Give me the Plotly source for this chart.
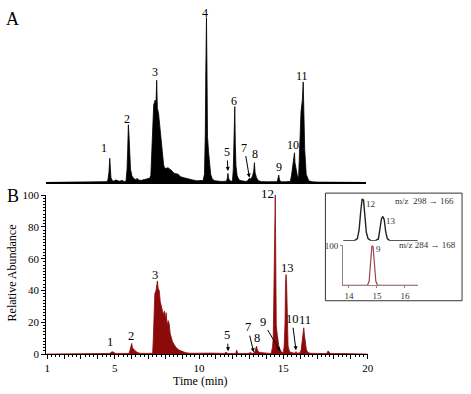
import plotly.graph_objects as go

# ---------------- data ----------------
time_a = [0.94, 4.50, 4.55, 4.62, 4.68, 4.73, 4.76, 4.80, 4.88, 4.95, 5.10, 5.30, 5.45, 5.60,
          5.70, 5.76, 5.80, 5.84, 5.88, 5.92, 5.97, 6.05, 6.15, 6.30, 6.36, 6.45, 6.60, 6.80, 7.00,
          7.10, 7.18, 7.26, 7.35, 7.44, 7.49, 7.53, 7.57, 7.64, 7.70, 7.76, 7.82, 7.88, 7.94, 7.99,
          8.10, 8.20, 8.34, 8.45, 8.52, 8.60, 8.81, 8.95, 9.10, 9.40, 9.69, 9.90, 10.20,
          10.30, 10.38, 10.43, 10.46, 10.50, 10.53, 10.56, 10.62, 10.68, 10.75, 10.85, 11.00, 11.40,
          11.70, 11.75, 11.78, 11.82, 11.90, 12.00,
          12.05, 12.10, 12.14, 12.19, 12.22, 12.26, 12.33, 12.45, 12.60, 12.85,
          12.95, 13.06, 13.15, 13.25, 13.32, 13.36, 13.40, 13.48, 13.60, 13.80, 14.20, 14.60,
          14.72, 14.78, 14.81, 14.85, 14.92, 15.20, 15.45,
          15.50, 15.57, 15.63, 15.70, 15.75, 15.78, 15.84, 15.90, 15.95,
          16.00, 16.06, 16.14, 16.22, 16.27, 16.31, 16.36, 16.45, 16.60, 16.80, 17.20, 20.00]
abund_a = [0.0, 0.3, 0.5, 1.5, 6.0, 14.7, 8.0, 3.0, 1.2, 0.8, 1.5, 0.7, 1.2, 0.6,
           0.8, 8.0, 20.0, 35.0, 28.0, 18.0, 8.0, 4.0, 2.5, 1.5, 2.5, 1.5, 1.2, 1.8, 2.0,
           2.5, 4.0, 25.0, 47.0, 50.0, 48.0, 62.0, 45.0, 42.0, 36.0, 30.0, 21.0, 15.0, 11.0, 9.0,
           8.5, 9.0, 8.0, 7.0, 6.0, 5.5, 5.0, 3.5, 3.0, 2.0, 1.5, 1.0, 1.0,
           1.2, 5.0, 30.0, 68.0, 100.0, 68.0, 28.0, 19.0, 12.0, 5.0, 2.0, 1.0, 0.6,
           0.8, 3.0, 5.5, 2.5, 1.0, 0.8,
           1.0, 8.0, 24.0, 46.0, 24.0, 10.0, 4.0, 1.5, 1.0, 0.6,
           1.0, 2.5, 2.0, 4.0, 7.0, 12.0, 6.0, 3.0, 1.0, 0.5, 0.4, 0.4,
           0.5, 3.0, 4.5, 2.0, 0.4, 0.4, 0.4,
           0.6, 4.0, 10.0, 13.0, 18.0, 12.0, 8.0, 3.0, 2.5,
           4.0, 19.0, 43.0, 50.0, 61.0, 43.0, 20.0, 5.0, 1.0, 0.4, 0.2, 0.0]

time_b = [0.94, 3.00, 4.70, 4.78, 4.85, 4.95, 5.05, 5.50,
          5.85, 5.92, 5.98, 6.01, 6.05, 6.12, 6.22, 6.35, 6.50, 6.90,
          7.25, 7.29, 7.33, 7.38, 7.45, 7.50, 7.53, 7.58, 7.64, 7.70, 7.76, 7.82, 7.88, 7.95,
          8.00, 8.05, 8.11, 8.17, 8.23, 8.29, 8.34, 8.42, 8.52, 8.65, 8.81, 9.00, 9.22, 9.50,
          9.80, 10.20, 10.80, 11.50, 11.60, 11.70, 12.18, 12.23, 12.28, 12.35, 12.90, 13.06, 13.15,
          13.25, 13.33, 13.38, 13.41, 13.45, 13.52, 13.60, 13.75, 13.90, 14.20,
          14.28, 14.35, 14.40, 14.43, 14.47, 14.52, 14.55, 14.58, 14.64, 14.70, 14.75, 14.81, 14.87, 14.95,
          15.00, 15.05, 15.10, 15.13, 15.16, 15.19, 15.23, 15.28, 15.35, 15.45,
          15.70, 15.75, 15.80, 16.00, 16.06, 16.12, 16.17, 16.21, 16.25, 16.30, 16.36, 16.45, 16.60,
          17.00, 17.58, 17.65, 17.72, 17.80, 18.50, 20.00]
abund_b = [0.0, 0.3, 0.4, 1.0, 1.5, 1.0, 0.4, 0.4,
           0.4, 3.0, 5.0, 6.7, 4.0, 3.0, 2.0, 1.0, 0.5, 0.4,
           0.5, 10.0, 30.0, 38.0, 40.0, 45.0, 46.0, 41.0, 40.0, 33.0, 30.0, 28.0, 25.0, 27.0,
           22.0, 26.0, 18.0, 21.0, 19.0, 13.0, 11.0, 8.0, 6.0, 4.0, 2.5, 1.5, 0.8, 0.5,
           0.6, 0.4, 0.6, 0.4, 1.2, 0.4, 0.4, 2.5, 1.0, 0.4, 0.4, 0.9, 0.4,
           0.6, 2.0, 4.0, 5.0, 3.0, 1.5, 1.0, 0.8, 0.5, 0.4,
           0.5, 4.0, 10.0, 33.0, 59.0, 100.0, 59.0, 18.0, 12.0, 5.0, 4.0, 3.0, 1.5, 1.0,
           1.0, 5.0, 20.0, 45.0, 50.0, 45.0, 15.0, 5.0, 2.0, 1.0,
           0.5, 1.5, 0.5, 0.8, 3.0, 8.0, 14.0, 16.5, 12.0, 7.0, 3.0, 1.0, 0.5,
           0.4, 0.3, 2.0, 1.0, 0.3, 0.3, 0.0]

inset_time_298 = [13.79, 14.20, 14.30, 14.36, 14.42, 14.47, 14.52, 14.57, 14.62, 14.68, 14.78,
                  14.95, 15.05, 15.10, 15.16, 15.21, 15.26, 15.31, 15.37, 15.45, 16.46]
inset_abund_298 = [0, 0, 5, 25, 70, 100, 97, 60, 20, 5, 0,
                   0, 4, 25, 52, 58, 50, 22, 5, 0, 0]
inset_time_284 = [13.79, 14.66, 14.72, 14.77, 14.82, 14.86, 14.91, 14.96, 15.02, 16.46]
inset_abund_284 = [0, 0, 10, 55, 100, 98, 55, 10, 0, 0]

labels_a = ["1", "2", "3", "4", "6", "8", "9", "10", "11"]
label_t_a = [4.38, 5.78, 7.41, 10.44, 12.13, 13.42, 14.81, 15.69, 16.21]
label_v_a = [21.2, 38.8, 67.0, 103.0, 49.4, 17.0, 9.4, 23.0, 64.7]
arrows_a = [("5", 11.78, 7.0, -1, -19), ("7", 13.06, 3.0, -5, -30)]

labels_b = ["1", "2", "3", "8", "13", "11"]
label_t_b = [4.73, 5.95, 7.41, 13.42, 15.22, 16.28]
label_v_b = [7.3, 11.6, 50.0, 9.8, 54.0, 21.3]
arrows_b = [("5", 11.73, 1.8, -1, -16), ("7", 13.24, 1.2, -6, -25),
            ("9", 14.81, 1.8, -17, -29), ("10", 15.75, 2.4, -4, -31)]

x_ticks = list(range(1, 21))
x_ticklabels = [str(v) if v in (1, 5, 10, 15, 20) else "" for v in x_ticks]
y_ticks = [0, 20, 40, 60, 80, 100]

# ---------------- figure ----------------
W, H = 471, 394
def px(x): return x / W
def py(y): return 1 - y / H

SERIF = "Liberation Serif"
RED = "#8B0A0A"

fig = go.Figure()
fig.add_trace(go.Scatter(x=time_a, y=abund_a, xaxis="x2", yaxis="y2", mode="lines",
                         line=dict(color="black", width=0.8), fill="tozeroy",
                         fillcolor="black", hoverinfo="skip"))
fig.add_trace(go.Scatter(x=time_b, y=abund_b, xaxis="x", yaxis="y", mode="lines",
                         line=dict(color=RED, width=0.8), fill="tozeroy",
                         fillcolor=RED, hoverinfo="skip"))
fig.add_trace(go.Scatter(x=inset_time_298, y=inset_abund_298, xaxis="x3", yaxis="y3",
                         mode="lines", line=dict(color="#222", width=1.4), hoverinfo="skip"))
fig.add_trace(go.Scatter(x=inset_time_284, y=inset_abund_284, xaxis="x4", yaxis="y4",
                         mode="lines", line=dict(color="#a04050", width=1.2), hoverinfo="skip"))

def txt(size, color="black"):
    return dict(family=SERIF, size=size, color=color)

ann = []
for t, xv, yv in zip(labels_a, label_t_a, label_v_a):
    ann.append(dict(text=t, x=xv, y=yv, xref="x2", yref="y2", showarrow=False,
                    xanchor="center", yanchor="middle", font=txt(12)))
for t, xv, yv, dx, dy in arrows_a:
    ann.append(dict(text=t, x=xv, y=yv, xref="x2", yref="y2", showarrow=True,
                    ax=dx, ay=dy, arrowhead=2, arrowsize=0.8, arrowwidth=1,
                    arrowcolor="black", font=txt(12)))
for t, xv, yv in zip(labels_b, label_t_b, label_v_b):
    ann.append(dict(text=t, x=xv, y=yv, xref="x", yref="y", showarrow=False,
                    xanchor="center", yanchor="middle", font=txt(12.5)))
ann.append(dict(text="12", x=14.06, y=100, yshift=2, xref="x", yref="y", showarrow=False,
                xanchor="center", yanchor="middle", font=txt(13)))
for t, xv, yv, dx, dy in arrows_b:
    ann.append(dict(text=t, x=xv, y=yv, xref="x", yref="y", showarrow=True,
                    ax=dx, ay=dy, arrowhead=2, arrowsize=0.8, arrowwidth=1,
                    arrowcolor="black", font=txt(12.5)))

ann.append(dict(text="12", x=14.55, y=88, xref="x3", yref="y3", showarrow=False,
                xanchor="left", yanchor="middle", font=txt(9, "#333")))
ann.append(dict(text="13", x=15.26, y=48, xref="x3", yref="y3", showarrow=False,
                xanchor="left", yanchor="middle", font=txt(9, "#333")))
ann.append(dict(text="9", x=14.90, y=92, xref="x4", yref="y4", showarrow=False,
                xanchor="left", yanchor="middle", font=txt(9, "#333")))
ann.append(dict(text="m/z  298 \u2192 166", x=px(430), y=py(201), xref="paper", yref="paper",
                xanchor="center", yanchor="middle", showarrow=False, font=txt(9, "#333")))
ann.append(dict(text="m/z 284 \u2192 168", x=px(433), y=py(247), xref="paper", yref="paper",
                xanchor="center", yanchor="middle", showarrow=False, font=txt(9, "#333")))

ann.append(dict(text="A", x=px(11), y=py(13), xref="paper", yref="paper", showarrow=False,
                xanchor="center", yanchor="middle", font=txt(18)))
ann.append(dict(text="B", x=px(11), y=py(196), xref="paper", yref="paper", showarrow=False,
                xanchor="center", yanchor="middle", font=txt(18)))
ann.append(dict(text="Relative Abundance", x=px(10), y=py(275), xref="paper", yref="paper",
                textangle=-90, xanchor="center", yanchor="middle", showarrow=False,
                font=txt(12)))
ann.append(dict(text="Time (min)", x=px(202), y=py(387), xref="paper", yref="paper",
                xanchor="center", yanchor="middle", showarrow=False, font=txt(12)))

fig.update_layout(
    width=W, height=H, margin=dict(l=0, r=0, t=0, b=0),
    paper_bgcolor="white", plot_bgcolor="white", showlegend=False,
    annotations=ann,
    shapes=[dict(type="rect", xref="paper", yref="paper", x0=px(329), x1=px(468),
                 y0=py(304), y1=py(193), line=dict(color="#333", width=1))],
    xaxis=dict(domain=[px(45), px(372)], range=[0.94, 20.0], anchor="y",
               showline=True, linecolor="black", linewidth=1, showgrid=False, zeroline=False,
               tickvals=x_ticks, ticktext=x_ticklabels, ticks="outside", ticklen=4,
               tickcolor="black", tickfont=txt(11),
               minor=dict(dtick=0.25, tick0=1, ticks="outside", ticklen=2, tickcolor="black",
                          showgrid=False)),
    yaxis=dict(domain=[py(359), py(195)], range=[0, 100], anchor="x",
               showline=True, linecolor="black", linewidth=1, showgrid=False, zeroline=False,
               tickvals=y_ticks, ticks="outside", ticklen=4, tickcolor="black",
               tickfont=txt(11),
               minor=dict(dtick=2, ticks="outside", ticklen=2, tickcolor="black", showgrid=False)),
    xaxis2=dict(domain=[px(45), px(370)], range=[0.94, 20.0], anchor="y2",
                showline=True, linecolor="black", linewidth=1.5, showgrid=False, zeroline=False,
                ticks="", showticklabels=False),
    yaxis2=dict(domain=[py(182), py(182 - 170 * 1.06)], range=[0, 106], anchor="x2",
                visible=False),
    xaxis3=dict(domain=[px(347), px(423)], range=[13.79, 16.46], anchor="y3", visible=False),
    yaxis3=dict(domain=[py(242), py(242 - 43 * 1.1)], range=[0, 110], anchor="x3", visible=False),
    xaxis4=dict(domain=[px(347), px(423)], range=[13.79, 16.46], anchor="y4",
                showline=True, linecolor="#a08088", linewidth=1, showgrid=False, zeroline=False,
                tickvals=[14, 15, 16], ticks="outside", ticklen=2, tickcolor="#888",
                tickfont=txt(9, "#333")),
    yaxis4=dict(domain=[py(288), py(247)], range=[0, 100], anchor="x4",
                showline=True, linecolor="#888", linewidth=1, showgrid=False, zeroline=False,
                tickvals=[100], ticks="outside", ticklen=2, tickcolor="#888",
                tickfont=txt(9, "#333")),
)

fig.write_html("out.html")
